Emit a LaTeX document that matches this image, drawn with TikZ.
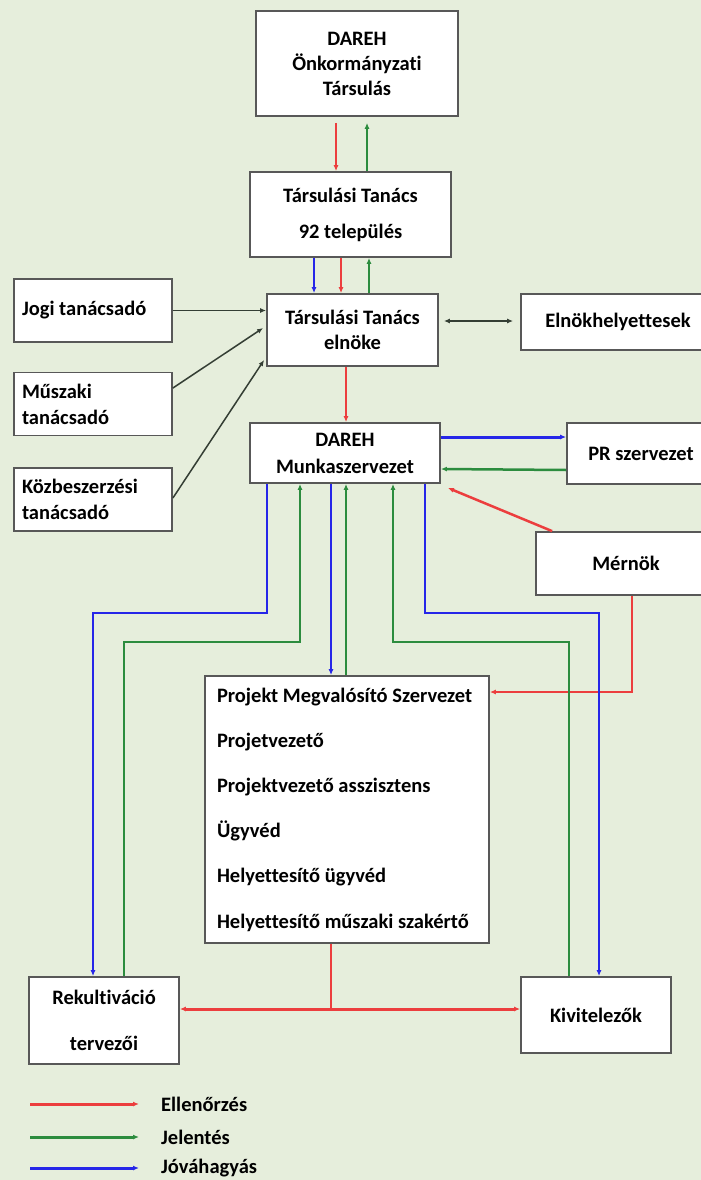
\documentclass[tikz,border=0pt]{standalone}
\usepackage{fontspec}
\setmainfont{Carlito}[Ligatures=NoCommon]
\usepackage{tikz}
\usetikzlibrary{arrows.meta,positioning}

\definecolor{bgcol}{RGB}{230,238,220}
\definecolor{boxgray}{RGB}{88,88,88}
\definecolor{ellred}{RGB}{236,62,62}
\definecolor{jelgreen}{RGB}{44,140,62}
\definecolor{jovblue}{RGB}{38,38,232}
\definecolor{tanline}{RGB}{52,62,52}

\tikzset{
  box/.style={draw=boxgray, line width=1.8pt, fill=white, inner sep=0pt, align=center,
    font=\bfseries\fontsize{20.5}{24}\selectfont},
  leftbox/.style={box, align=flush left},
  tip/.style={-{Latex[length=6pt,width=5pt]}},
  ell/.style={draw=ellred, line width=2pt, tip},
  jel/.style={draw=jelgreen, line width=2pt, tip},
  jov/.style={draw=jovblue, line width=2pt, tip},
  tan/.style={draw=tanline, line width=1.5pt, tip},
}

\begin{document}
\begin{tikzpicture}[x=1pt, y=-1pt]
    % Background
    \fill[bgcol] (0,0) rectangle (701,1180);
    \useasboundingbox (0,0) rectangle (701,1180);

    % Boxes
    \node[box, minimum width=202pt, minimum height=105pt] (dareh) at (357,63.5) {DAREH\\[1pt]Önkormányzati\\[1pt]Társulás};
    \node[box, minimum width=201pt, minimum height=85pt] (tanacs) at (350.5,214.5) {Társulási Tanács\\[12pt]92 település};
    \node[box, minimum width=171pt, minimum height=72pt] (elnok) at (352.5,330) {Társulási Tanács\\[1pt]elnöke};
    \node[box, minimum width=194pt, minimum height=56pt] (elnokh) at (618,322) {Elnökhelyettesek};
    \node[box, minimum width=190pt, minimum height=60pt] (munka) at (345,453) {DAREH\\[3pt]Munkaszervezet};
    \node[box, minimum width=148pt, minimum height=61pt] (pr) at (641,453.5) {PR szervezet};
    \node[box, minimum width=180pt, minimum height=63pt] (mernok) at (626,563.5) {Mérnök};
    \node[leftbox, text width=260pt, minimum width=284pt, minimum height=267pt,
      font=\bfseries\fontsize{20.5}{45.2}\selectfont] (pms) at (347,809.5)
      {Projekt Megvalósító Szervezet\\Projetvezető\\Projektvezető asszisztens\\Ügyvéd\\Helyettesítő ügyvéd\\Helyettesítő műszaki szakértő};
    \node[box, minimum width=150pt, minimum height=87pt] (rekult) at (104,1020.5) {Rekultiváció\\[22pt]tervezői};
    \node[box, minimum width=150pt, minimum height=76pt] (kivit) at (596,1015) {Kivitelezők};

    % Advisers on the left
    \foreach \n/\y/\t in {jogi/310.5/Jogi tanácsadó, muszaki/404/Műszaki\\[2pt]tanácsadó, kozbesz/499.5/Közbeszerzési\\[2pt]tanácsadó} {
      \node[leftbox, text width=142pt, minimum width=158pt, minimum height=63pt] (\n) at (93,\y) {\t};
    }
    \draw[tan] (jogi.east) -- (jogi.east -| elnok.west);
    \draw[tan] ([yshift=16pt]muszaki.east) -- ([xshift=-3pt,yshift=2pt]elnok.west);
    \draw[tan] ([yshift=1.5pt]kozbesz.east) -- ([xshift=-2pt,yshift=-30pt]elnok.west);
    \draw[tan, line width=1.2pt, {Latex[length=6pt,width=5pt]}-{Latex[length=6pt,width=5pt]}, shorten <=5pt, shorten >=7pt]
      ([yshift=9pt]elnok.east) -- ([yshift=1pt]elnokh.west);

    % Top of the chain
    \draw[ell, shorten <=6pt] ([xshift=-21pt]dareh.south) -- ([xshift=-14.5pt]tanacs.north);
    \draw[jel, shorten >=6pt] ([xshift=16.5pt]tanacs.north) -- ([xshift=10pt]dareh.south);
    \draw[jov] ([xshift=-36.5pt]tanacs.south) -- ([xshift=-38.5pt]elnok.north);
    \draw[ell] ([xshift=-9.5pt]tanacs.south) -- ([xshift=-11.5pt]elnok.north);
    \draw[jel] ([xshift=16.5pt]elnok.north) -- ([xshift=18.5pt]tanacs.south);
    \draw[ell] ([xshift=-6.5pt]elnok.south) -- ([xshift=1pt]munka.north);

    % PR and engineer
    \draw[jov, line width=3pt] ([yshift=16pt]munka.east) -- ([yshift=16.5pt]pr.west);
    \draw[jel, line width=2.5pt] ([yshift=-16.5pt]pr.west) -- ([yshift=-16pt]munka.east);
    \draw[ell, line width=2.5pt] ([xshift=17pt]mernok.north west) -- ([xshift=7pt,yshift=-4pt]munka.south east);
    \draw[ell, line width=2.5pt] ([xshift=6pt]mernok.south) |- ([yshift=117.5pt]pms.east);

    % Lines under the Munkaszervezet
    \draw[jov] ([xshift=-78pt]munka.south) -- ++(0,129) -| ([xshift=-11pt]rekult.north);
    \draw[jel] ([xshift=20pt]rekult.north) -- ++(0,-334) -| ([xshift=-45pt]munka.south);
    \draw[jov] ([xshift=-14pt]munka.south) -- ([xshift=-16pt]pms.north);
    \draw[jel] ([xshift=-1pt]pms.north) -- ([xshift=1pt]munka.south);
    \draw[jel] ([xshift=-27pt]kivit.north) -- ++(0,-334) -| ([xshift=48pt]munka.south);
    \draw[jov] ([xshift=80pt]munka.south) -- ++(0,129) -| ([xshift=3pt]kivit.north);

    % Bottom split
    \draw[ell, -] ([xshift=-16pt]pms.south) -- ++(0,66) coordinate (split);
    \draw[ell, line width=3pt, {Latex[length=6pt,width=5pt]}-{Latex[length=6pt,width=5pt]}]
      ([yshift=11.5pt]rekult.east) -- ([yshift=6pt]kivit.west);

    % Legend
    \foreach \i/\y/\c/\t in {1/1104/ellred/Ellenőrzés, 2/1137/jelgreen/Jelentés, 3/1168/jovblue/Jóváhagyás} {
      \coordinate (lg\i) at (30,\y);
      \coordinate (lgend\i) at (139,\y);
      \node[anchor=west, inner sep=0pt, font=\bfseries\fontsize{20.5}{24}\selectfont] (lgtext\i) at (161,\y) {\t};
      \draw[draw=\c, line width=3pt, tip] (lg\i) -- (lgend\i);
    }
\end{tikzpicture}
\end{document}
